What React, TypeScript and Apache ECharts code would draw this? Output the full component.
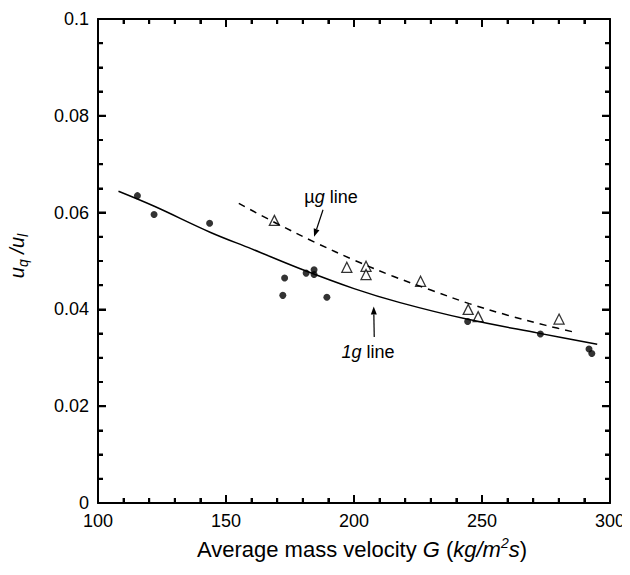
import React, { useEffect, useRef } from "react";
import * as echarts from "echarts";

// ---- data ----
const oneGPoints: [number, number][] = [
  [115.4, 0.0635], [121.9, 0.0596], [143.6, 0.0578], [172.9, 0.0465], [172.2, 0.0429],
  [181.3, 0.0475], [184.4, 0.0482], [184.4, 0.0472], [189.4, 0.0425], [244.4, 0.0375],
  [272.8, 0.0349], [291.8, 0.0318], [292.9, 0.0309],
];
const microGPoints: [number, number][] = [
  [168.9, 0.0584], [197.2, 0.0487], [204.7, 0.0489], [204.7, 0.0472], [226.0, 0.0458],
  [244.6, 0.04], [248.5, 0.0385], [280.1, 0.038],
];
const oneGLine: [number, number][] = [
  [108, 0.0644], [122, 0.0613], [144, 0.0559], [160, 0.0525], [179, 0.0484], [200, 0.0443],
  [218, 0.0414], [244, 0.038], [272, 0.0351], [295, 0.0328],
];
const microGLine: [number, number][] = [
  [155, 0.0619], [170, 0.0577], [185, 0.0538], [200, 0.0502], [215, 0.0469], [230, 0.044],
  [245, 0.0412], [260, 0.0388], [275, 0.0367], [286, 0.0353],
];
const xTicks = [100, 150, 200, 250, 300];
const yTicks = [0, 0.02, 0.04, 0.06, 0.08, 0.1];
const xMinorSplit = 5;
const yMinorSplit = 4;

const FONT = "Liberation Sans, Arial, sans-serif";
const MAJOR = 8;
const MINOR = 5;

function makeAxis(position: string, min: number, max: number, interval: number, minorSplit: number, labels: boolean) {
  return {
    type: "value",
    position,
    min,
    max,
    interval,
    axisLine: { show: true, onZero: false, lineStyle: { color: "#000", width: 2 } },
    axisTick: { show: true, inside: true, length: MAJOR, lineStyle: { color: "#000", width: 2 } },
    minorTick: { show: true, splitNumber: minorSplit, length: MINOR, lineStyle: { color: "#000", width: 2 } },
    splitLine: { show: false },
    minorSplitLine: { show: false },
    axisLabel: labels
      ? { show: true, color: "#000", fontSize: 18, fontFamily: FONT, margin: 9 }
      : { show: false },
  };
}

export default function App() {
  const ref = useRef<HTMLDivElement>(null);
  useEffect(() => {
    if (!ref.current) return;
    const chart = echarts.init(ref.current, null, { renderer: "svg" });
    const xMin = xTicks[0], xMax = xTicks[xTicks.length - 1];
    const yMin = yTicks[0], yMax = yTicks[yTicks.length - 1];
    const xInt = xTicks[1] - xTicks[0];
    const yInt = yTicks[1] - yTicks[0];

    const baseSeries: any[] = [
      {
        id: "oneGLine", type: "line", data: oneGLine, smooth: 0.35, showSymbol: false, symbol: "none",
        lineStyle: { color: "#000", width: 1.5 },
      },
      {
        id: "microGLine", type: "line", data: microGLine, smooth: 0.35, showSymbol: false, symbol: "none",
        lineStyle: { color: "#000", width: 1.5, type: [7, 6] },
      },
      {
        id: "oneGPts", type: "scatter", data: oneGPoints, symbol: "circle", symbolSize: 7,
        itemStyle: { color: "#000" },
      },
      {
        id: "microGPts", type: "scatter", data: microGPoints, symbol: "triangle", symbolSize: 10,
        itemStyle: { color: "#fff", borderColor: "#000", borderWidth: 1.3 },
      },
    ];

    chart.setOption({
      animation: false,
      backgroundColor: "#fff",
      grid: { left: 98, right: 20, top: 19, bottom: 72, containLabel: false },
      xAxis: [
        makeAxis("bottom", xMin, xMax, xInt, xMinorSplit, true),
        makeAxis("top", xMin, xMax, xInt, xMinorSplit, false),
      ],
      yAxis: [
        makeAxis("left", yMin, yMax, yInt, yMinorSplit, true),
        makeAxis("right", yMin, yMax, yInt, yMinorSplit, false),
      ],
      series: baseSeries,
    });

    const px = (x: number, y: number) => chart.convertToPixel({ xAxisIndex: 0, yAxisIndex: 0 }, [x, y]) as number[];

    // tick length converted from pixels to data units through the chart's scales
    const pxPerX = (px(xMax, yMin)[0] - px(xMin, yMin)[0]) / (xMax - xMin);
    const pxPerY = (px(xMin, yMin)[1] - px(xMin, yMax)[1]) / (yMax - yMin);

    const tickLine: any[] = [];
    const addX = (v: number, len: number) => {
      const d = len / pxPerY;
      tickLine.push([v, yMin], [v, yMin + d], "-", [v, yMax], [v, yMax - d], "-");
    };
    const addY = (v: number, len: number) => {
      const d = len / pxPerX;
      tickLine.push([xMin, v], [xMin + d, v], "-", [xMax, v], [xMax - d, v], "-");
    };
    for (let i = 0; i < xTicks.length; i++) {
      if (i > 0 && i < xTicks.length - 1) addX(xTicks[i], MAJOR);
      if (i < xTicks.length - 1) for (let j = 1; j < xMinorSplit; j++) addX(xTicks[i] + (xInt * j) / xMinorSplit, MINOR);
    }
    for (let i = 0; i < yTicks.length; i++) {
      if (i > 0 && i < yTicks.length - 1) addY(yTicks[i], MAJOR);
      if (i < yTicks.length - 1) for (let j = 1; j < yMinorSplit; j++) addY(yTicks[i] + (yInt * j) / yMinorSplit, MINOR);
    }

    const arrow = (tail: number[], tip: number[]) => {
      const dx = tip[0] - tail[0], dy = tip[1] - tail[1];
      const len = Math.hypot(dx, dy);
      const ux = dx / len, uy = dy / len;
      const hl = 8, hw = 3;
      const bx = tip[0] - ux * hl, by = tip[1] - uy * hl;
      return [
        { type: "line", shape: { x1: tail[0], y1: tail[1], x2: bx, y2: by }, style: { stroke: "#000", lineWidth: 1.2 } },
        {
          type: "polygon",
          shape: { points: [[tip[0], tip[1]], [bx - uy * hw, by + ux * hw], [bx + uy * hw, by - ux * hw]] },
          style: { fill: "#000" },
        },
      ];
    };
    const uTail = px(187.9, 0.0606), uTip = px(184.4, 0.055);
    const gTail = px(207.9, 0.0343), gTip = px(207.7, 0.0406);
    const uText = px(191, 0.0633), gText = px(205.5, 0.0312);
    const plotCenterY = (px(xMin, yMin)[1] + px(xMin, yMax)[1]) / 2;

    const rich = {
      n: { fontSize: 18, fontFamily: FONT, fill: "#000" },
      i: { fontSize: 18, fontFamily: FONT, fontStyle: "italic", fill: "#000" },
    };
    chart.setOption({
      series: [
        ...baseSeries,
        {
          id: "ticks", type: "line", data: tickLine, connectNulls: false, showSymbol: false, symbol: "none",
          clip: false, silent: true, z: 5, lineStyle: { color: "#000", width: 2, cap: "butt" },
        },
      ],
      graphic: [
        ...arrow(uTail, uTip),
        ...arrow(gTail, gTip),
        {
          type: "text", x: uText[0], y: uText[1],
          style: { text: "{n|µ}{i|g}{n| line}", rich, align: "center", verticalAlign: "middle" },
        },
        {
          type: "text", x: gText[0], y: gText[1],
          style: { text: "{i|1g}{n| line}", rich, align: "center", verticalAlign: "middle" },
        },
        {
          type: "text", x: 362, y: 548,
          style: {
            text: "{n|Average mass velocity }{i|G}{n| (}{i|kg/m}{sup|2}{i|s}{n|)}",
            align: "center", verticalAlign: "middle",
            rich: {
              n: { fontSize: 22, fontFamily: FONT, fill: "#000", verticalAlign: "bottom", lineHeight: 25 },
              i: { fontSize: 22, fontFamily: FONT, fontStyle: "italic", fill: "#000", verticalAlign: "bottom", lineHeight: 25 },
              sup: { fontSize: 14, fontFamily: FONT, fontStyle: "italic", fill: "#000", verticalAlign: "top", lineHeight: 14 },
            },
          },
        },
        {
          type: "text", x: 17, y: plotCenterY - 5, rotation: Math.PI / 2,
          style: {
            text: "{i|u}{sub|q}{i| /u}{sub|l}",
            align: "center", verticalAlign: "middle",
            rich: {
              i: { fontSize: 20, fontFamily: FONT, fontStyle: "italic", fill: "#000", verticalAlign: "top", lineHeight: 20 },
              sub: { fontSize: 14, fontFamily: FONT, fontStyle: "italic", fill: "#000", verticalAlign: "top", lineHeight: 14, padding: [9, 0, 0, 0] },
            },
          },
        },
      ],
    });
    return () => chart.dispose();
  }, []);
  return <div ref={ref} style={{ width: 630, height: 575, margin: -8 }} />;
}
